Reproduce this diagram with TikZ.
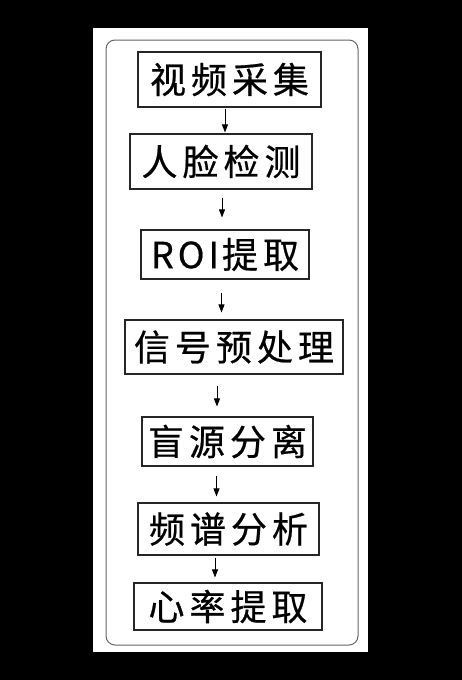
\documentclass[tikz,border=0pt]{standalone}
\usepackage{fontspec}
\newfontfamily\cjk[FakeBold=0.6]{Noto Sans CJK SC}
\usetikzlibrary{arrows.meta}
\begin{document}
\begin{tikzpicture}[x=1pt,y=-1pt,
  stepbox/.style={draw=black!85,line width=1.1pt,fill=white,inner sep=0pt,
    font=\cjk\fontsize{36}{40}\selectfont,text=black},
  arr/.style={draw=black,line width=0.8pt,-{Triangle[length=8pt,width=6pt]}}]
\newcommand{\g}{\hspace{5pt}}
\useasboundingbox (0,0) rectangle (462,680);
\fill[black] (0,0) rectangle (462,680);
\fill[white] (93,28) rectangle (368,652);
\draw[black!60,line width=1pt,rounded corners=9pt] (106,40) rectangle (358,645);

\node[stepbox,minimum width=183pt,minimum height=55pt] (b1) at (229.5,79.5) {视\g 频\g 采\g 集};
\node[stepbox,minimum width=182pt,minimum height=55pt] (b2) at (221,161.5) {人\g 脸\g 检\g 测};
\node[stepbox,minimum width=168pt,minimum height=49pt] (b3) at (225,254.5) {R\hspace{4pt}O\hspace{4pt}I\hspace{3pt}提\g 取};
\node[stepbox,minimum width=218pt,minimum height=54pt] (b4) at (234,347) {信\g 号\g 预\g 处\g 理};
\node[stepbox,minimum width=171pt,minimum height=49pt] (b5) at (227.5,441.5) {盲\g 源\g 分\g 离};
\node[stepbox,minimum width=181pt,minimum height=52pt] (b6) at (228.5,529) {频\g 谱\g 分\g 析};
\node[stepbox,minimum width=188pt,minimum height=47pt] (b7) at (228,606.5) {心\g 率\g 提\g 取};

\coordinate (x1) at (225,0);
\coordinate (x2) at (222,0);
\coordinate (x3) at (221.5,0);
\coordinate (x4) at (217,0);
\coordinate (x5) at (216.5,0);
\coordinate (x6) at (215,0);

\draw[arr,shorten <=1pt,shorten >=1pt] (b1.south -| x1) -- (b2.north -| x1);
\draw[arr,shorten <=8pt,shorten >=12pt] (b2.south -| x2) -- (b3.north -| x2);
\draw[arr,shorten <=13pt,shorten >=7pt] (b3.south -| x3) -- (b4.north -| x3);
\draw[arr,shorten <=11pt,shorten >=10pt] (b4.south -| x4) -- (b5.north -| x4);
\draw[arr,shorten <=9pt,shorten >=6pt] (b5.south -| x5) -- (b6.north -| x5);
\draw[arr,shorten <=2pt,shorten >=5pt] (b6.south -| x6) -- (b7.north -| x6);
\end{tikzpicture}
\end{document}
